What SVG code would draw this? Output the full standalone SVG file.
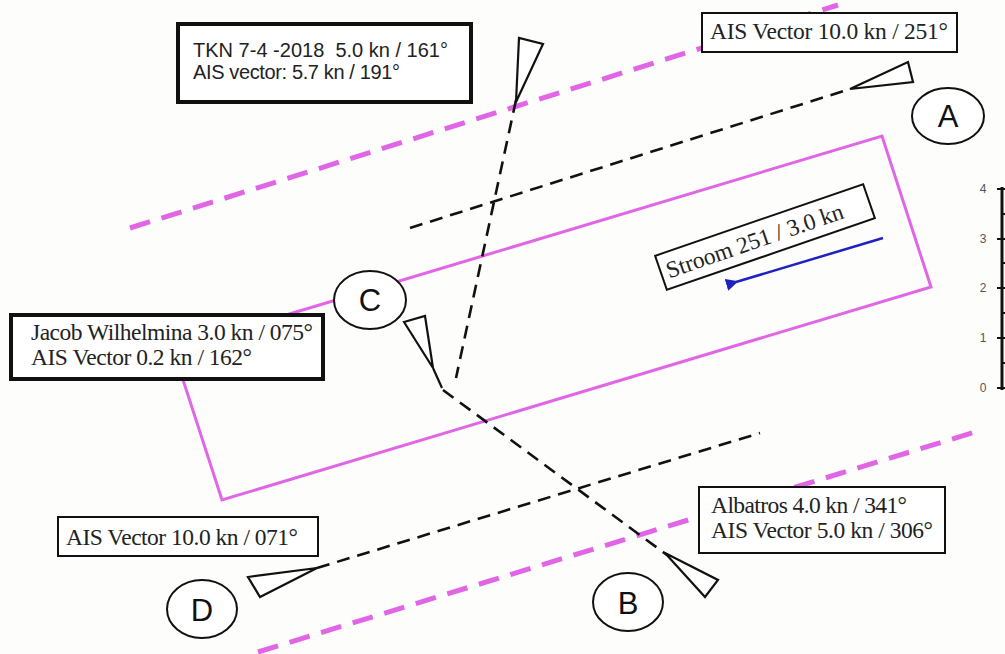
<svg xmlns="http://www.w3.org/2000/svg" width="1005" height="654" viewBox="0 0 1005 654">
<defs>
<style>
.bg{fill:#fdfdfb}
.zone{fill:none;stroke:#e066e6;stroke-width:3}
.lane{fill:none;stroke:#e066e6;stroke-width:5;stroke-dasharray:21 12}
.track{fill:none;stroke:#111;stroke-width:2.6;stroke-dasharray:13 8}
.ship{fill:#fff;stroke:#111;stroke-width:2.2;stroke-linejoin:miter}
.box{fill:#fff;stroke:#111;stroke-width:2}
.boxb{fill:#fff;stroke:#111;stroke-width:4}
.circ{fill:#fff;stroke:#111;stroke-width:2}
.serif{font-family:"Liberation Serif","Times New Roman",serif;font-size:23.5px;fill:#222}
.sans{font-family:"Liberation Sans",Arial,sans-serif;font-size:20px;fill:#222}
.letter{font-family:"Liberation Sans",Arial,sans-serif;font-size:31px;fill:#111;text-anchor:middle}
.scale{font-family:"Liberation Sans",Arial,sans-serif;font-size:12px;fill:#555;text-anchor:middle}
</style>
<marker id="arr" viewBox="0 0 10 10" refX="2" refY="5" markerWidth="5" markerHeight="5" orient="auto">
<path d="M10,0 L0,5 L10,10 z" fill="#1f22c0"/>
</marker>
</defs>
<rect class="bg" x="0" y="0" width="1005" height="654"/>

<g id="zone">
<polygon class="zone" points="173,349 882,136 931,287 222,500"/>
</g>
<g id="lanes">
<line class="lane" x1="130" y1="228" x2="838" y2="5"/>
<line class="lane" x1="258" y1="652" x2="975" y2="432"/>
</g>

<g id="connectors">
<line class="track" x1="410" y1="228" x2="850" y2="89"/>
<line class="track" x1="516" y1="100" x2="456" y2="378"/>
<line class="track" x1="443" y1="390" x2="667" y2="555"/>
<line class="track" x1="317" y1="568" x2="760" y2="433"/>
<line stroke="#111" stroke-width="2.2" x1="433" y1="368" x2="442" y2="388"/>
</g>

<g id="ship-A"><polygon class="ship" points="850,89 908,62 913,82"/></g>
<g id="ship-TKN"><polygon class="ship" points="516,102 519,38 543,44"/></g>
<g id="ship-C"><polygon class="ship" points="404,322 425,316 433,368"/></g>
<g id="ship-B"><polygon class="ship" points="665,553 718,580 705,597"/></g>
<g id="ship-D"><polygon class="ship" points="317,568 248,577 260,597"/></g>

<g id="label-A"><ellipse class="circ" cx="948" cy="116" rx="36" ry="28"/><text class="letter" x="948" y="127">A</text></g>
<g id="label-B"><ellipse class="circ" cx="628" cy="602" rx="35" ry="29"/><text class="letter" x="628" y="614">B</text></g>
<g id="label-C"><ellipse class="circ" cx="370" cy="300" rx="36" ry="29"/><text class="letter" x="370" y="311">C</text></g>
<g id="label-D"><ellipse class="circ" cx="202" cy="609" rx="35" ry="29"/><text class="letter" x="202" y="621">D</text></g>

<g id="box-TKN">
<rect class="boxb" x="178" y="24" width="293" height="78"/>
<text class="sans" x="193" y="57" textLength="255" lengthAdjust="spacing">TKN 7-4 -2018&#160; 5.0 kn / 161°</text>
<text class="sans" x="193" y="79" textLength="207" lengthAdjust="spacing">AIS vector: 5.7 kn / 191°</text>
</g>

<g id="box-A">
<rect class="box" x="702" y="13" width="255" height="39"/>
<text class="serif" x="710" y="39" textLength="238" lengthAdjust="spacing">AIS Vector 10.0 kn / 251°</text>
</g>

<g id="box-Jacob">
<rect class="boxb" x="11" y="315" width="312" height="64"/>
<text class="serif" x="31" y="340" textLength="282" lengthAdjust="spacing">Jacob Wilhelmina 3.0 kn / 075°</text>
<text class="serif" x="31" y="365" textLength="221" lengthAdjust="spacing">AIS Vector 0.2 kn / 162°</text>
</g>

<g id="box-D">
<rect class="box" x="58" y="517" width="260" height="39"/>
<text class="serif" x="66" y="545" textLength="232" lengthAdjust="spacing">AIS Vector 10.0 kn / 071°</text>
</g>

<g id="box-Albatros">
<rect class="box" x="699" y="487" width="246" height="66"/>
<text class="serif" x="711" y="513" textLength="196" lengthAdjust="spacing">Albatros 4.0 kn / 341°</text>
<text class="serif" x="711" y="538" textLength="222" lengthAdjust="spacing">AIS Vector 5.0 kn / 306°</text>
</g>

<g id="box-Stroom" transform="translate(765,237) rotate(-19)">
<rect class="box" x="-110" y="-18" width="220" height="36"/>
<text class="serif" x="-104" y="8" textLength="186" lengthAdjust="spacing">Stroom 251 / 3.0 kn</text>
</g>

<g id="current-arrow">
<line x1="883" y1="238" x2="736" y2="282" stroke="#1f22c0" stroke-width="2.5" marker-end="url(#arr)"/>
</g>

<g id="scale">
<line x1="1002" y1="187" x2="1002" y2="390" stroke="#111" stroke-width="3"/>
<g stroke="#111" stroke-width="2">
<line x1="997" y1="189" x2="1005" y2="189"/>
<line x1="997" y1="239" x2="1005" y2="239"/>
<line x1="997" y1="288" x2="1005" y2="288"/>
<line x1="997" y1="338" x2="1005" y2="338"/>
<line x1="997" y1="388" x2="1005" y2="388"/>
<line x1="1002" y1="214" x2="1005" y2="214"/>
<line x1="1002" y1="263" x2="1005" y2="263"/>
<line x1="1002" y1="313" x2="1005" y2="313"/>
<line x1="1002" y1="363" x2="1005" y2="363"/>
</g>
<text class="scale" x="983" y="193">4</text>
<text class="scale" x="983" y="243">3</text>
<text class="scale" x="983" y="292">2</text>
<text class="scale" x="983" y="342">1</text>
<text class="scale" x="983" y="392">0</text>
</g>
</svg>
